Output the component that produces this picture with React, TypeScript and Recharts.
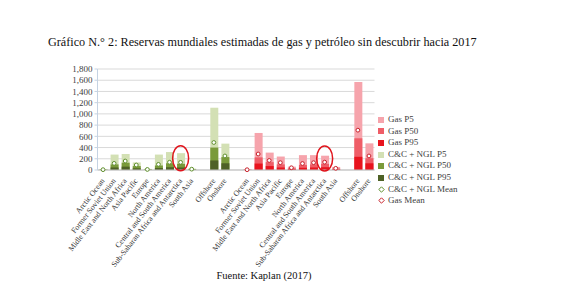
import React from 'react';
import { ComposedChart, Bar, Line, XAxis, YAxis, CartesianGrid, Cell, ReferenceDot } from 'recharts';

const serif = '"Liberation Serif", "Times New Roman", serif';

const regions = [
    'Arctic Ocean',
    'Former Soviet Union',
    'Midle East and North Africa',
    'Asia Pacific',
    'Europe',
    'North America',
    'Central and South America',
    'Sub-Saharan Africa and Antarctica',
    'South Asia',
];
const settings = ['Offshore', 'Onshore'];

// C&C + NGL: regions first, then offshore / onshore
const oilP5 = [15, 275, 285, 135, 20, 275, 320, 300, 25, 1110, 470];
const oilP50 = [5, 100, 130, 70, 8, 80, 120, 110, 10, 400, 230];
const oilP95 = [2, 45, 60, 30, 3, 35, 50, 45, 4, 170, 120];
const oilMean = [6, 118, 160, 89, 10, 100, 138, 136, 15, 490, 250];

// Gas: same order
const gasP5 = [10, 660, 310, 240, 60, 265, 265, 255, 55, 1570, 475];
const gasP50 = [4, 225, 140, 100, 30, 90, 100, 110, 25, 565, 210];
const gasP95 = [2, 115, 70, 45, 15, 40, 45, 50, 10, 235, 120];
const gasMean = [5, 285, 170, 130, 40, 115, 130, 140, 30, 710, 250];

const yTicks = [0, 200, 400, 600, 800, 1000, 1200, 1400, 1600, 1800];

const colors = {
    oil: { p5: '#d3e0b4', p50: '#7a9a3a', p95: '#4e6126', mean: '#5f8f2c' },
    gas: { p5: '#f6a4ac', p50: '#ef5d67', p95: '#e8141e', mean: '#c8202a' },
};

type Group = 'oil' | 'gas' | 'gap';

interface Row {
    key: string;
    label: string;
    group: Group;
    p5: number | null;
    p50: number | null;
    p95: number | null;
    mean: number | null;
}

function gapRow(n: number): Row {
    return { key: `gap-${n}`, label: '', group: 'gap', p5: null, p50: null, p95: null, mean: null };
}

function groupRows(group: 'oil' | 'gas', p5: number[], p50: number[], p95: number[], mean: number[]): Row[] {
    const names = [...regions, '', ...settings];
    let v = 0;
    return names.map((name, i) => {
        if (name === '') return gapRow(i + (group === 'oil' ? 100 : 200));
        const row: Row = { key: `${group}-${v}`, label: name, group, p5: p5[v], p50: p50[v], p95: p95[v], mean: mean[v] };
        v++;
        return row;
    });
}

const rows: Row[] = [
    ...groupRows('oil', oilP5, oilP50, oilP95, oilMean),
    gapRow(0),
    ...groupRows('gas', gasP5, gasP50, gasP95, gasMean),
];

const labelByKey: Record<string, string> = Object.fromEntries(rows.map((r) => [r.key, r.label]));

const fillFor = (row: Row, layer: 'p5' | 'p50' | 'p95') =>
    row.group === 'gap' ? 'none' : colors[row.group][layer];

const legendItems = [
    { label: 'Gas P5', color: colors.gas.p5, kind: 'box' },
    { label: 'Gas P50', color: colors.gas.p50, kind: 'box' },
    { label: 'Gas P95', color: colors.gas.p95, kind: 'box' },
    { label: 'C&C + NGL P5', color: colors.oil.p5, kind: 'box' },
    { label: 'C&C + NGL P50', color: colors.oil.p50, kind: 'box' },
    { label: 'C&C + NGL P95', color: colors.oil.p95, kind: 'box' },
    { label: 'C&C + NGL Mean', color: colors.oil.mean, kind: 'mark' },
    { label: 'Gas Mean', color: colors.gas.mean, kind: 'mark' },
];

function MeanDot(props: any) {
    const { cx, cy, payload, index } = props;
    if (cx == null || cy == null || payload?.mean == null || payload.group === 'gap') {
        return <g key={`m-${index}`} />;
    }
    return (
        <circle key={`m-${index}`} cx={cx} cy={cy} r={1.9} fill="#ffffff"
            stroke={colors[payload.group as 'oil' | 'gas'].mean} strokeWidth={1} />
    );
}

function Highlight(props: any) {
    const { cx, cy } = props;
    return <ellipse cx={cx} cy={cy} rx={8} ry={12.5} fill="none" stroke="#e0141c" strokeWidth={1.5} />;
}

// slanted category label, anchored at its end just under the axis
function CategoryTick(props: any) {
    const { x, y, payload } = props;
    const text = labelByKey[payload.value] ?? '';
    if (!text) return <g />;
    return (
        <g transform={`translate(${x + 2},${y + 3})`}>
            <text x={0} y={0} textAnchor="end" transform="rotate(-52)" fontSize={7.9}
                fill="#333333" fontFamily={serif}>
                {text}
            </text>
        </g>
    );
}

export default function App() {
    return (
        <div style={{ position: 'absolute', left: 0, top: 0, width: 567, height: 292, background: '#fff', fontFamily: serif }}>
            <div style={{ position: 'absolute', left: 48, top: 35, fontSize: 12.2, color: '#111', whiteSpace: 'nowrap' }}>
                Gráfico N.° 2: Reservas mundiales estimadas de gas y petróleo sin descubrir hacia 2017
            </div>

            <div style={{ position: 'absolute', left: 0, top: 0 }}>
                <ComposedChart width={567} height={292} data={rows}
                    margin={{ top: 69, right: 192.5, bottom: 0, left: 57.5 }}>
                    <CartesianGrid vertical={false} stroke="#d9d9d9" xAxisId="a" />
                    <XAxis xAxisId="a" dataKey="key" interval={0} height={122}
                        tickLine={false} axisLine={{ stroke: '#bfbfbf' }} tick={<CategoryTick />} />
                    <XAxis xAxisId="b" dataKey="key" hide />
                    <XAxis xAxisId="c" dataKey="key" hide />
                    <YAxis domain={[0, 1800]} ticks={yTicks} width={40} interval={0}
                        tickFormatter={(v) => v.toLocaleString('en-US')}
                        axisLine={{ stroke: '#c5d3e3' }} tickLine={{ stroke: '#c5d3e3' }} tickSize={3}
                        tick={{ fontSize: 9, fill: '#404040', fontFamily: serif }} />
                    <Bar xAxisId="a" dataKey="p5" barSize={8} isAnimationActive={false}>
                        {rows.map((r) => <Cell key={r.key} fill={fillFor(r, 'p5')} />)}
                    </Bar>
                    <Bar xAxisId="b" dataKey="p50" barSize={8} isAnimationActive={false}>
                        {rows.map((r) => <Cell key={r.key} fill={fillFor(r, 'p50')} />)}
                    </Bar>
                    <Bar xAxisId="c" dataKey="p95" barSize={8} isAnimationActive={false}>
                        {rows.map((r) => <Cell key={r.key} fill={fillFor(r, 'p95')} />)}
                    </Bar>
                    <Line xAxisId="a" dataKey="mean" stroke="none" dot={MeanDot} activeDot={false}
                        isAnimationActive={false} />
                    <ReferenceDot xAxisId="a" x="oil-7" y={210} shape={Highlight} />
                    <ReferenceDot xAxisId="a" x="gas-7" y={205} shape={Highlight} />
                </ComposedChart>
            </div>

            <div style={{ position: 'absolute', left: 378, top: 114, fontSize: 9, color: '#404040', lineHeight: '11.6px' }}>
                {legendItems.map((it) => (
                    <div key={it.label} style={{ display: 'flex', alignItems: 'center', whiteSpace: 'nowrap' }}>
                        {it.kind === 'box' ? (
                            <span style={{ width: 6, height: 6, background: it.color, marginRight: 4 }} />
                        ) : (
                            <svg width={7} height={7} style={{ marginRight: 3 }}>
                                <path d="M3.5 0.8 L6.2 3.5 L3.5 6.2 L0.8 3.5 Z" fill="#fff" stroke={it.color} strokeWidth={1} />
                            </svg>
                        )}
                        {it.label}
                    </div>
                ))}
            </div>

            <div style={{ position: 'absolute', left: 0, width: 528, top: 270, textAlign: 'center', fontSize: 10.5, color: '#111' }}>
                Fuente: Kaplan (2017)
            </div>
        </div>
    );
}
